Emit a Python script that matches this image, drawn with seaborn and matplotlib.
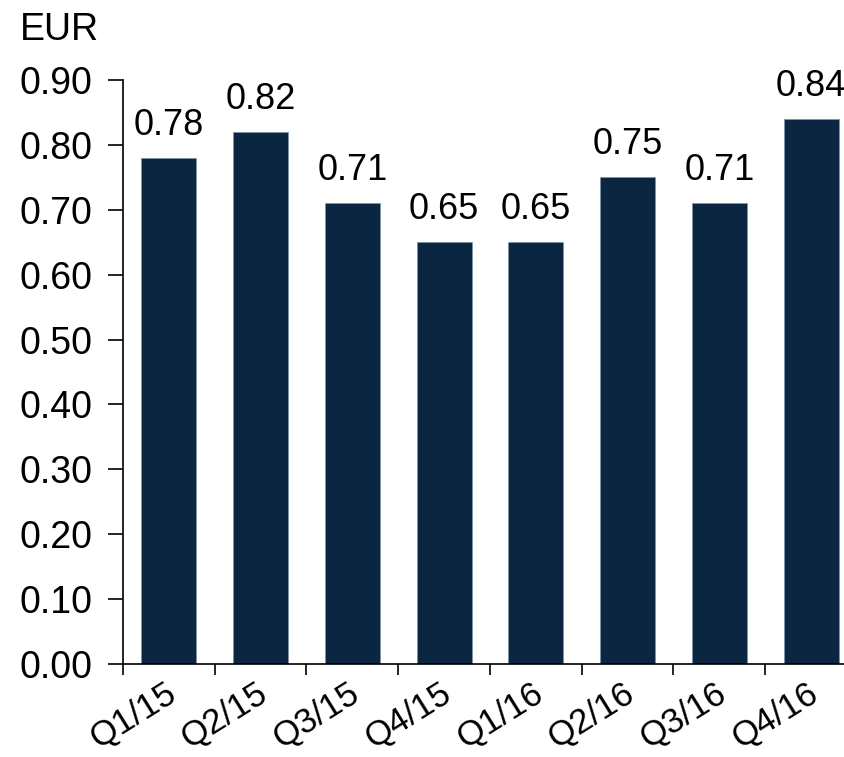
import matplotlib
matplotlib.use("Agg")
import matplotlib.pyplot as plt
import matplotlib.transforms as mtransforms
import seaborn as sns
import pandas as pd
import numpy as np
from matplotlib.ticker import FormatStrFormatter, FixedLocator

# Data
QUARTERS = ["Q1/15", "Q2/15", "Q3/15", "Q4/15", "Q1/16", "Q2/16", "Q3/16", "Q4/16"]
VALUES = [0.78, 0.82, 0.71, 0.65, 0.65, 0.75, 0.71, 0.84]
UNIT = "EUR"

BAR_COLOR = "#0a2640"
FS = 27

sns.set_theme(style="white")
plt.rcParams['font.family'] = ['Liberation Sans', 'DejaVu Sans']

df = pd.DataFrame({'Quarter': QUARTERS, 'Value': VALUES})

fig = plt.figure(figsize=(8.45, 7.57), dpi=100)
W, H = 845, 757
ax = fig.add_axes([123 / W, (H - 664) / H, (845 - 123) / W, (664 - 80) / H])

sns.barplot(data=df, x='Quarter', y='Value', color=BAR_COLOR, width=0.6,
            edgecolor='#7f93a8', linewidth=0.6, saturation=1, ax=ax)

ax.set_ylim(0, 0.9)
ax.set_xlim(-0.5, 7.37)
ax.set_xlabel('')
ax.set_ylabel('')

# value labels
for c in ax.containers:
    ax.bar_label(c, labels=[f"{v:.2f}" for v in VALUES], padding=11, fontsize=26, color='black')

# y axis
ax.set_yticks(np.arange(0, 0.91, 0.1))
ax.yaxis.set_major_formatter(FormatStrFormatter('%.2f'))
ax.tick_params(axis='y', which='major', length=11, width=1.2, direction='out',
               labelsize=FS, pad=11, left=True, color='black', labelcolor='black')

# x axis: labels at centers, tick marks at boundaries
ax.tick_params(axis='x', which='major', length=0, labelsize=25, pad=19, labelcolor='black')
ax.xaxis.set_minor_locator(FixedLocator(np.arange(-0.5, 7, 1.0)))
ax.tick_params(axis='x', which='minor', length=8, width=1.2, direction='out',
               bottom=True, color='black')
shift = mtransforms.ScaledTranslation(4 / 100, 0, fig.dpi_scale_trans)
for lab in ax.get_xticklabels():
    lab.set_rotation(32)
    lab.set_ha('right')
    lab.set_rotation_mode('anchor')
    lab.set_va('center')
    lab.set_transform(lab.get_transform() + shift)

for s in ['top', 'right']:
    ax.spines[s].set_visible(False)
for s in ['left', 'bottom']:
    ax.spines[s].set_color('black')
    ax.spines[s].set_linewidth(1.2)

fig.text(20 / W, 1 - 40 / H, UNIT, fontsize=FS, va='baseline', ha='left', color='black')

fig.savefig('out.png', dpi=100)
